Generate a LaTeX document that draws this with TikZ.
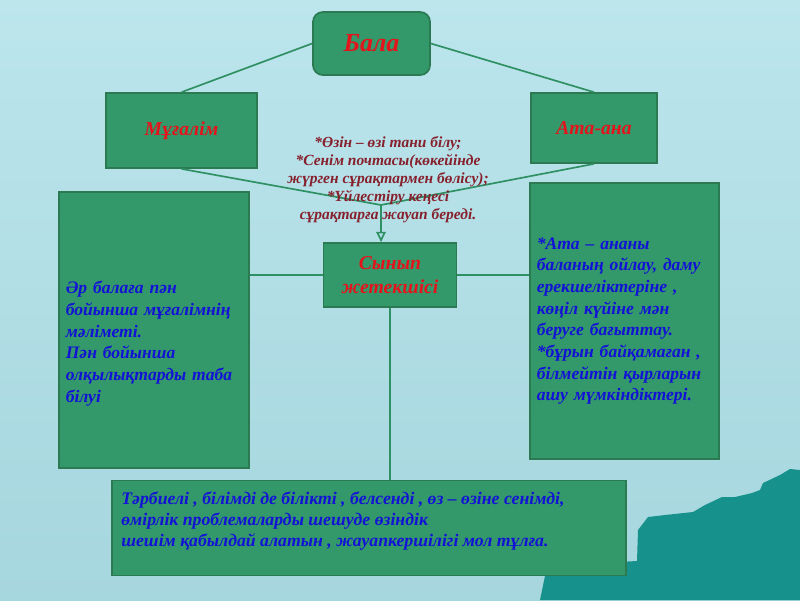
\documentclass[tikz,border=0pt]{standalone}
\usepackage{fontspec}
\setmainfont{Liberation Serif}
\usetikzlibrary{
  arrows.meta,
  positioning,
  calc
}
\definecolor{bgTop}{HTML}{BCE5EC}
\definecolor{bgBot}{HTML}{A6D6DE}
\definecolor{seaTeal}{HTML}{17918C}
\definecolor{boxGreen}{HTML}{34996A}
\definecolor{boxEdge}{HTML}{2B7A52}
\definecolor{linkGreen}{HTML}{2F9163}
\definecolor{txtRed}{HTML}{E3141B}
\definecolor{txtBlue}{HTML}{1212D6}
\definecolor{txtWine}{HTML}{86202C}
\tikzset{
  gbox/.style={
    draw=boxEdge, fill=boxGreen, line width=1.2pt, align=center, inner sep=0pt
  },
  headbox/.style={gbox, rounded corners=7pt, text=txtRed,
    font=\fontsize{18.5}{22}\selectfont\bfseries\itshape},
  rolebox/.style={gbox, text=txtRed,
    font=\fontsize{14}{17.5}\selectfont\bfseries\itshape},
  notebox/.style={gbox, text=txtBlue, align=left, inner xsep=0.17cm,
    font=\fontsize{12.5}{15.4}\selectfont\bfseries\itshape},
  bluetext/.style={text=txtBlue, align=left, inner sep=0pt,
    font=\fontsize{12.6}{15}\selectfont\bfseries\itshape},
  tasktext/.style={text=txtWine, align=center, inner sep=0pt,
    font=\fontsize{11}{12.8}\selectfont\bfseries\itshape},
  link/.style={draw=linkGreen, line width=1.2pt},
  linkarrow/.style={link, -{Triangle[open, length=2.6mm, width=2.4mm]}}
}
\begin{document}
\begin{tikzpicture}[x=0.025cm, y=-0.025cm]
  % background
  \shade[top color=bgTop, bottom color=bgBot] (0,0) rectangle (800,600);
  \fill[seaTeal] (540,600) -- (546,571) -- (600,563) -- (637,561) -- (638,530)
    -- (648,517) -- (665,515) -- (693,512) -- (705,505) -- (722,497)
    -- (735,497) -- (752,493) -- (760,490) -- (763,483) -- (780,475)
    -- (790,469) -- (800,470) -- (800,600) -- cycle;
  \useasboundingbox (0,0) rectangle (800,600);

  % boxes
  \node[headbox, minimum width=2.925cm, minimum height=1.575cm] (bala) at (371.5,43.5) {Бала};
  \node[rolebox, minimum width=3.775cm, minimum height=1.875cm] (mug) at (181.5,130.5) {Мұғалім};
  \node[rolebox, minimum width=3.15cm, minimum height=1.75cm] (ata) at (594,128) {Ата-ана};
  \node[rolebox, minimum width=3.325cm, minimum height=1.6cm] (synyp) at (390,275) {Сынып\\жетекшісі};
  \node[notebox, text width=4.41cm, minimum height=6.9cm] (leftnote) at (154,330)
    {\mbox{}\\[13pt]Әр балаға пән\\бойынша мұғалімнің\\мәліметі.\\Пән бойынша\\олқылықтарды таба\\білуі};
  \node[notebox, text width=4.385cm, minimum height=6.9cm] (rightnote) at (624.5,321)
    {*Ата – ананы\\баланың ойлау, даму\\ерекшеліктеріне ,\\көңіл күйіне мән\\беруге бағыттау.\\{}*бұрын байқамаған ,\\білмейтін қырларын\\ашу мүмкіндіктері.};
  \node[gbox, minimum width=12.85cm, minimum height=2.375cm] (goal) at (369,528) {};
  \node[bluetext, anchor=north west] (goaltext) at ([shift={(10,12)}]goal.north west)
    {Тәрбиелі , білімді де білікті , белсенді , өз – өзіне сенімді,\\өмірлік проблемаларды шешуде өзіндік\\шешім қабылдай алатын , жауапкершілігі мол тұлға.};

  % connectors
  \coordinate (meet) at (381,205);
  \draw[link] (bala.west) -- (mug.north);
  \draw[link] (bala.east) -- (ata.north);
  \draw[link] (mug.south) -- (meet);
  \draw[link] (ata.south) -- (meet);
  \draw[linkarrow] (meet) -- (meet |- synyp.north);
  \draw[link] (synyp.west) -- (synyp.west -| leftnote.east);
  \draw[link] (synyp.east) -- (synyp.east -| rightnote.west);
  \draw[link] (synyp.south) -- (synyp.south |- goal.north);

  % task list
  \node[tasktext] (tasks) at (388,180)
    {*Өзін – өзі тани білу;\\{}*Сенім почтасы(көкейінде\\жүрген сұрақтармен бөлісу);\\{}*Үйлестіру кеңесі\\сұрақтарға жауап береді.};
\end{tikzpicture}
\end{document}
